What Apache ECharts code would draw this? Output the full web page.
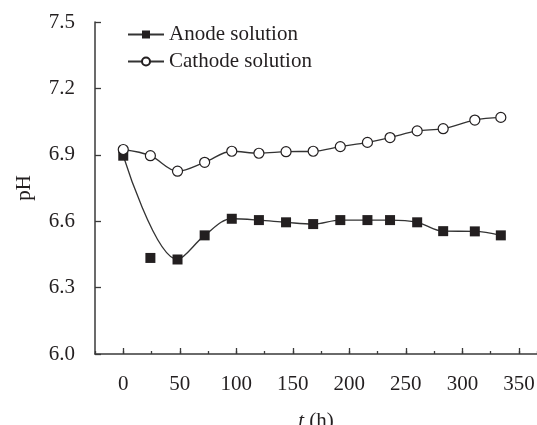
<!DOCTYPE html>
<html>
<head>
<meta charset="utf-8">
<script src="https://cdn.jsdelivr.net/npm/echarts@6/dist/echarts.min.js"></script>
<style>
  html, body { margin: 0; padding: 0; background: #fff; }
  #chart { width: 537px; height: 425px; }
</style>
</head>
<body>
<div id="chart"></div>
<script>
// time (h) and pH readings
var hours = [0, 24, 48, 72, 96, 120, 144, 168, 192, 216, 236, 260, 283, 311, 334];
var anodePH = [6.896, 6.434, 6.427, 6.536, 6.611, 6.605, 6.595, 6.587, 6.605, 6.605, 6.605, 6.595, 6.555, 6.554, 6.536];
var cathodePH = [6.924, 6.896, 6.826, 6.866, 6.916, 6.907, 6.914, 6.916, 6.937, 6.956, 6.978, 7.008, 7.018, 7.057, 7.069];
// the smoothed anode curve in the figure does not pass through the 24 h point
var anodeCurveSkip = [24];
var xMajorTicks = [0, 50, 100, 150, 200, 250, 300, 350];

var ink = '#231f20';
var font = 'Liberation Serif';

function pairs(xs, ys, skip) {
    var out = [];
    for (var i = 0; i < xs.length; i++) {
        if (skip && skip.indexOf(xs[i]) >= 0) continue;
        out.push([xs[i], ys[i]]);
    }
    return out;
}

var chart = echarts.init(document.getElementById('chart'));
var option = {
    animation: false,
    textStyle: { fontFamily: font, color: ink },
    grid: { left: 95, right: 0, top: 22, bottom: 71, containLabel: false, outerBoundsMode: 'none' },
    legend: {
        orient: 'vertical',
        left: 122,
        top: 19,
        itemWidth: 36,
        itemHeight: 10,
        itemGap: 6,
        data: ['Anode solution', 'Cathode solution'],
        textStyle: { fontFamily: font, fontSize: 21, color: ink }
    },
    xAxis: [
        {
            type: 'value',
            min: -25,
            max: 366,
            interval: 25,
            name: '{i|t} (h)',
            nameLocation: 'middle',
            nameGap: 57,
            nameTextStyle: {
                fontFamily: font, fontSize: 21, color: ink,
                rich: { i: { fontFamily: font, fontSize: 21, fontStyle: 'italic', color: ink } }
            },
            splitLine: { show: false },
            axisLine: { onZero: false, lineStyle: { color: '#3a3a3a', width: 1.5 } },
            axisTick: { inside: true, length: 3, lineStyle: { color: '#3a3a3a', width: 1.3 } },
            axisLabel: {
                margin: 20,
                fontFamily: font, fontSize: 21, color: ink,
                formatter: function (v) {
                    return xMajorTicks.indexOf(v) >= 0 ? String(v) : '';
                }
            }
        },
        {
            type: 'value',
            min: -25,
            max: 366,
            interval: 25,
            position: 'bottom',
            splitLine: { show: false },
            axisLine: { show: false, onZero: false },
            axisLabel: { show: false },
            axisTick: {
                inside: true, length: 6,
                customValues: xMajorTicks,
                lineStyle: { color: '#3a3a3a', width: 1.3 }
            }
        }
    ],
    yAxis: {
        type: 'value',
        min: 6.0,
        max: 7.5,
        interval: 0.3,
        name: 'pH',
        nameLocation: 'middle',
        nameGap: 60,
        nameTextStyle: { fontFamily: font, fontSize: 21, color: ink },
        splitLine: { show: false },
        axisLine: { show: true, onZero: false, lineStyle: { color: '#3a3a3a', width: 1.5 } },
        axisTick: { show: true, inside: true, length: 6, lineStyle: { color: '#3a3a3a', width: 1.3 } },
        axisLabel: {
            margin: 20,
            fontFamily: font, fontSize: 21, color: ink,
            formatter: function (v) { return v.toFixed(1); }
        }
    },
    series: [
        {
            name: 'Anode solution',
            type: 'line',
            smooth: 0.35,
            symbol: 'rect',
            symbolSize: 10,
            z: 3,
            itemStyle: { color: ink },
            lineStyle: { color: '#333', width: 1.3 },
            data: pairs(hours, anodePH, anodeCurveSkip)
        },
        {
            name: 'Anode solution',
            type: 'scatter',
            symbol: 'rect',
            symbolSize: 10,
            z: 3,
            itemStyle: { color: ink, opacity: 1 },
            data: pairs(hours, anodePH).filter(function (p) { return anodeCurveSkip.indexOf(p[0]) >= 0; })
        },
        {
            name: 'Cathode solution',
            type: 'line',
            smooth: 0.35,
            symbol: 'circle',
            symbolSize: 10,
            showSymbol: true,
            z: 4,
            itemStyle: { color: '#fff', borderColor: ink, borderWidth: 1.2 },
            lineStyle: { color: '#333', width: 1.3 },
            data: pairs(hours, cathodePH)
        }
    ]
};
chart.setOption(option);
window.addEventListener('resize', function () {
    chart.resize();
});
</script>
</body>
</html>
